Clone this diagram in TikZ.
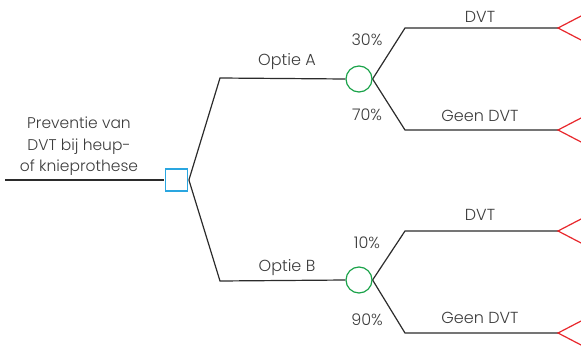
\documentclass[tikz,border=0pt]{standalone}
\usepackage{fontspec}
\setmainfont{Poppins}[UprightFont=* Light]
\usetikzlibrary{calc,backgrounds}
\definecolor{lncol}{HTML}{2B2B2B}
\definecolor{txtcol}{HTML}{3C3C3C}
\definecolor{decblue}{HTML}{2AA6E0}
\definecolor{chgreen}{HTML}{1BA34A}
\definecolor{termred}{HTML}{E8262B}
\begin{document}
\begin{tikzpicture}[x=1pt,y=-1pt,
  ln/.style={draw=lncol, line width=1.2pt},
  lbl/.style={font=\fontsize{16}{18}\selectfont, text=txtcol, inner sep=0pt},
  chance/.style={circle, draw=chgreen, line width=1.2pt, minimum size=26pt, inner sep=0pt, fill=white},
  decision/.style={rectangle, draw=decblue, line width=1.4pt, minimum size=22pt, inner sep=0pt, fill=white},
  term/.style={draw=termred, line width=1.2pt}]
\useasboundingbox (0,0) rectangle (581,348);
% nodes
\coordinate (start) at (5,180);
\node[decision] (dec) at (176.5,180) {};
\coordinate (ka) at (220,78);
\coordinate (kb) at (220,281);
\node[chance] (ca) at (359,79) {};
\node[chance] (cb) at (359,280) {};
\coordinate (a1k) at (405,28);
\coordinate (a2k) at (405,130);
\coordinate (b1k) at (405,231);
\coordinate (b2k) at (405,333);
\coordinate (a1) at (558,28);
\coordinate (a2) at (558,130);
\coordinate (b1) at (558,231);
\coordinate (b2) at (558,333);
% connectors
\begin{scope}[on background layer]
\clip (0,0) rectangle (581,348);
\draw[ln] (start) -- ($(dec.west)+(-0.7,0)$);
\draw[ln] ($(dec.east)+(0.7,0)$) -- (ka) -- (ca.west);
\draw[ln] ($(dec.east)+(0.7,0)$) -- (kb) -- (cb.west);
\draw[ln] (ca.east) -- (a1k) -- (a1);
\draw[ln] (ca.east) -- (a2k) -- (a2);
\draw[ln] (cb.east) -- (b1k) -- (b1);
\draw[ln] (cb.east) -- (b2k) -- (b2);
% terminals
\foreach \t in {a1,a2,b1,b2}{
  \draw[term] ($(\t)+(25,-13)$) -- (\t) -- ($(\t)+(25,13)$);
}
\end{scope}
% labels
\node[lbl, align=center, font=\fontsize{15.5}{21.5}\selectfont] (title) at (79,146.5) {Preventie van\\DVT bij heup-\\of knieprothese};
\node[lbl] (la) at (287,62) {Optie A};
\node[lbl] (lb) at (287,268) {Optie B};
\node[lbl] (p30) at (367,40) {30\%};
\node[lbl] (p70) at (367,115) {70\%};
\node[lbl] (p10) at (367,243) {10\%};
\node[lbl] (p90) at (367,320) {90\%};
\node[lbl] (t1) at (480,17) {DVT};
\node[lbl] (t2) at (480,116) {Geen DVT};
\node[lbl] (t3) at (480,215) {DVT};
\node[lbl] (t4) at (480,318) {Geen DVT};
\end{tikzpicture}
\end{document}
